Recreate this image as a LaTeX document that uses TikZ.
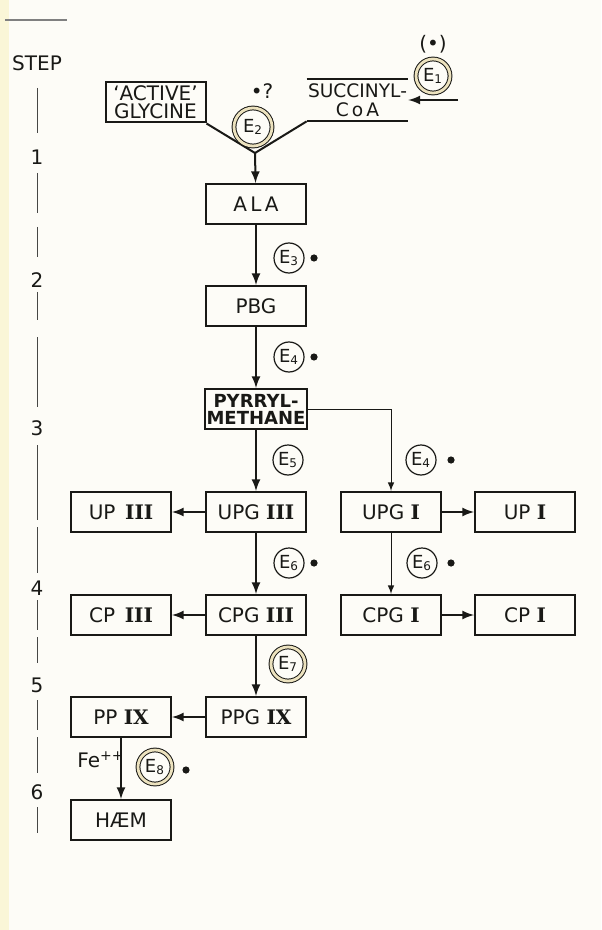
\documentclass[tikz,border=0pt]{standalone}
\usepackage{fontspec}
\setmainfont{DejaVu Sans}
\newfontfamily\romfont{DejaVu Serif}
\definecolor{paper}{RGB}{253,252,247}
\definecolor{edge}{RGB}{250,246,215}
\definecolor{ring}{RGB}{236,226,190}
\definecolor{ink}{RGB}{25,25,22}

\tikzset{
  box/.style={draw=ink, line width=1pt, minimum width=50pt, minimum height=20pt,
    inner sep=1pt, text=ink, font=\fontsize{10}{10}\selectfont},
  enz/.style={circle, draw=ink, line width=0.6pt, minimum size=15pt, inner sep=0pt,
    text=ink, font=\fontsize{9}{9}\selectfont},
  enzz/.style={enz, double=ring, double distance=1.4pt, line width=0.5pt, minimum size=17pt},
  flow/.style={draw=ink, line width=1pt, -latex},
  side/.style={draw=ink, line width=0.5pt, -latex},
  steplbl/.style={text=ink, font=\fontsize{10}{10}\selectfont},
}
\newcommand{\rn}[1]{{\romfont\bfseries #1}}

\begin{document}
\begin{tikzpicture}[x=0.5pt, y=-0.5pt]
    % Page
    \useasboundingbox (0,0) rectangle (601,930);
    \fill[paper] (0,0) rectangle (601,930);
    \fill[edge] (0,0) rectangle (9,930);
    \draw[gray, line width=0.6pt] (5,20) -- (67,20);

    % Step scale
    \node[steplbl] (step) at (37,63) {STEP};
    \draw[ink!80, line width=0.5pt] (37,88) -- (37,133) (37,173) -- (37,213)
        (37,227) -- (37,257) (37,292) -- (37,320) (37,337) -- (37,407)
        (37,445) -- (37,520) (37,527) -- (37,573) (37,600) -- (37,630)
        (37,637) -- (37,663) (37,700) -- (37,730) (37,737) -- (37,773)
        (37,807) -- (37,833);
    \node[steplbl] (s1) at (37,157) {1};
    \node[steplbl] (s2) at (37,280) {2};
    \node[steplbl] (s3) at (37,428) {3};
    \node[steplbl] (s4) at (37,588) {4};
    \node[steplbl] (s5) at (37,685) {5};
    \node[steplbl] (s6) at (37,792) {6};

    % Precursors
    \node[box, align=center, font=\fontsize{10}{9}\selectfont] (gly) at (155.5,102.5)
        {`ACTIVE'\\GLYCINE};
    \node[align=center, minimum width=50.5pt, minimum height=21pt, inner sep=0pt,
        text=ink, font=\fontsize{9.3}{9.5}\selectfont] (succ) at (357.5,100)
        {SUCCINYL-\\C\,o\,A};
    \draw[ink, line width=1pt] (succ.north west) -- (succ.north east)
        (succ.south west) -- (succ.south east);
    \coordinate (v) at (255,153);
    \draw[ink, line width=1pt] (gly.south east) -- (v) -- (succ.south west);

    \node[enzz, minimum size=19pt] (e2) at (253,127) {E\textsubscript{2}};
    \node[text=ink, font=\fontsize{10}{10}\selectfont] (q2) at (262,91) {•?};
    \node[enzz] (e1) at (433,76) {E\textsubscript{1}};
    \node[text=ink, font=\fontsize{10}{10}\selectfont] (d1) at (433,44) {(•)};
    \coordinate (e1in) at (458,100);
    \draw[flow] (e1in) -- (succ.east);

    % Main pathway
    \node[box] (ala) at (256,204) {A\,L\,A};
    \node[box] (pbg) at (256,306) {PBG};
    \node[box, align=center, font=\bfseries\fontsize{9}{8.5}\selectfont] (pyr) at (256,409)
        {PYRRYL-\\METHANE};
    \node[box] (upg3) at (256,512) {UPG \rn{III}};
    \node[box] (up3) at (121,512) {UP \,\rn{III}};
    \node[box] (upg1) at (391,512) {UPG \rn{I}};
    \node[box] (up1) at (525,512) {UP \rn{I}};
    \node[box] (cpg3) at (256,615) {CPG \rn{III}};
    \node[box] (cp3) at (121,615) {CP \,\rn{III}};
    \node[box] (cpg1) at (391,615) {CPG \rn{I}};
    \node[box] (cp1) at (525,615) {CP \rn{I}};
    \node[box] (ppg9) at (256,717) {PPG \rn{IX}};
    \node[box] (pp9) at (121,717) {PP \rn{IX}};
    \node[box] (haem) at (121,820) {HÆM};

    \draw[flow] (v) -- (ala);
    \draw[flow] (ala) -- (pbg);
    \draw[flow] (pbg) -- (pyr);
    \draw[flow] (pyr) -- (upg3);
    \draw[flow] (upg3) -- (cpg3);
    \draw[flow] (cpg3) -- (ppg9);
    \draw[flow] (upg3) -- (up3);
    \draw[flow] (cpg3) -- (cp3);
    \draw[flow] (ppg9) -- (pp9);
    \draw[flow] (pp9) -- (haem);
    \draw[side] (pyr.east) -| (upg1);
    \draw[side] (upg1) -- (cpg1);
    \draw[flow] (upg1) -- (up1);
    \draw[flow] (cpg1) -- (cp1);

    % Enzymes
    \node[enz] (e3) at (289,258) {E\textsubscript{3}};
    \node[enz] (e4) at (289,357) {E\textsubscript{4}};
    \node[enz] (e5) at (288,460) {E\textsubscript{5}};
    \node[enz] (e4b) at (421,460) {E\textsubscript{4}};
    \node[enz] (e6) at (289,563) {E\textsubscript{6}};
    \node[enz] (e6b) at (422,563) {E\textsubscript{6}};
    \node[enzz] (e7) at (288,664) {E\textsubscript{7}};
    \node[enzz] (e8) at (155,767) {E\textsubscript{8}};
    \node[text=ink, font=\fontsize{10}{10}\selectfont] (fe) at (101,760) {Fe\textsuperscript{++}};

    % Sensitive steps
    \fill[ink] (314,258) circle (1.8pt);
    \fill[ink] (314,357) circle (1.8pt);
    \fill[ink] (451,460) circle (1.8pt);
    \fill[ink] (314,563) circle (1.8pt);
    \fill[ink] (451,563) circle (1.8pt);
    \fill[ink] (186,770) circle (1.8pt);
\end{tikzpicture}
\end{document}
